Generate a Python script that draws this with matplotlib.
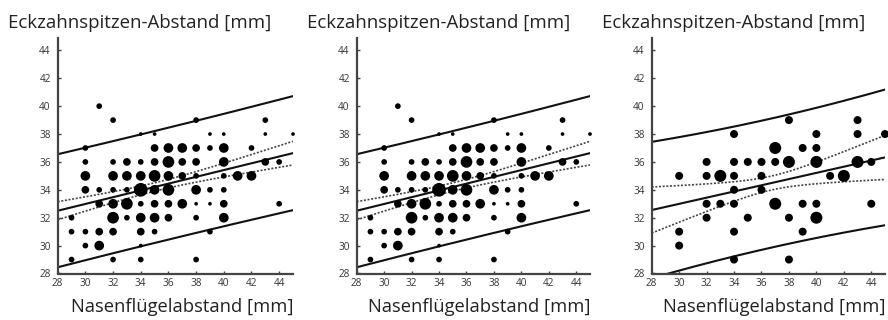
import numpy as np
import matplotlib
matplotlib.use("Agg")
import matplotlib.pyplot as plt

plt.rcParams['font.family'] = ['Open Sans', 'DejaVu Sans']

# ---- data: nose-wing width (x) vs. canine-tip distance (y), n = number of cases ----
# full sample (drawn in the left and middle panels)
x_all = [31,
         32, 38, 43,
         34, 35, 39, 40, 43, 45,
         30, 35, 36, 37, 38, 39, 40, 42,
         30, 32, 33, 34, 35, 36, 37, 38, 40, 43, 44,
         30, 32, 33, 34, 35, 36, 37, 38, 40, 41, 42,
         30, 31, 32, 33, 34, 35, 36, 38, 39, 40,
         31, 32, 33, 34, 35, 36, 37, 38, 39, 40, 44,
         29, 32, 33, 34, 35, 36, 38, 40,
         29, 30, 31, 32, 34, 35, 39,
         30, 31, 34,
         29, 32, 34, 38]
y_all = [40,
         39, 39, 39,
         38, 38, 38, 38, 38, 38,
         37, 37, 37, 37, 37, 37, 37, 37,
         36, 36, 36, 36, 36, 36, 36, 36, 36, 36, 36,
         35, 35, 35, 35, 35, 35, 35, 35, 35, 35, 35,
         34, 34, 34, 34, 34, 34, 34, 34, 34, 34,
         33, 33, 33, 33, 33, 33, 33, 33, 33, 33, 33,
         32, 32, 32, 32, 32, 32, 32, 32,
         31, 31, 31, 31, 31, 31, 31,
         30, 30, 30,
         29, 29, 29, 29]
n_all = [2,
         2, 2, 2,
         1, 1, 1, 1, 1, 1,
         2, 3, 4, 4, 3, 2, 4, 2,
         2, 2, 3, 2, 3, 5, 3, 3, 4, 3, 2,
         4, 4, 4, 4, 5, 4, 3, 2, 2, 4, 4,
         3, 2, 2, 2, 6, 4, 5, 4, 2, 2,
         3, 4, 5, 2, 3, 3, 4, 1, 1, 3, 2,
         2, 5, 2, 4, 4, 3, 2, 4,
         2, 2, 3, 3, 3, 2, 2,
         2, 4, 1,
         2, 2, 2, 2]

# sub-sample (right panel)
x_sub = [30, 30, 30,
         32, 32, 32, 32,
         33, 33,
         34, 34, 34, 34, 34, 34, 34,
         35, 35,
         36, 36, 36,
         37, 37, 37,
         38, 38, 38, 38,
         39, 39, 39,
         40, 40, 40, 40, 40,
         41, 42,
         43, 43, 43,
         44, 44,
         45]
y_sub = [35, 31, 30,
         36, 35, 33, 32,
         35, 33,
         38, 36, 35, 34, 33, 31, 29,
         36, 32,
         36, 35, 34,
         37, 36, 33,
         39, 36, 32, 29,
         37, 33, 31,
         38, 37, 36, 33, 32,
         35, 35,
         39, 38, 36,
         36, 33,
         38]
n_sub = [1, 1, 1,
         1, 1, 1, 1,
         2, 1,
         1, 1, 1, 1, 1, 1, 1,
         1, 1,
         1, 1, 1,
         2, 1, 2,
         1, 2, 1, 1,
         1, 1, 1,
         1, 1, 2, 1, 2,
         1, 2,
         1, 1, 2,
         1, 1,
         1]

# ---- linear fit: y at x=28, slope, mean x, fit SE terms, residual term ----
fit_all = dict(y28=32.5, slope=0.243, xm=35.15, c0=0.30, k=0.0806, ts=4.0)
fit_sub = dict(y28=32.55, slope=0.222, xm=36.7, c0=0.50, k=0.181, ts=4.6)

x_ticks = [28, 30, 32, 34, 36, 38, 40, 42, 44]
y_ticks = [28, 30, 32, 34, 36, 38, 40, 42, 44]
title_txt = "Eckzahnspitzen-Abstand [mm]"
xlabel_txt = "Nasenflügelabstand [mm]"

W, H = 888, 320
fig = plt.figure(figsize=(W / 100, H / 100), dpi=100)

AX_GRAY = "#444444"


def px_to_pt(d):
    return d * 72.0 / 100.0


def draw_panel(left_px, right_px, xs, ys, ns, fit, diam):
    bottom_px, top_px = 273.5, 38.5
    ax = fig.add_axes([left_px / W, 1 - bottom_px / H,
                       (right_px - left_px) / W, (bottom_px - top_px) / H])
    ax.set_xlim(28, 45)
    ax.set_ylim(28, 44.85)

    xx = np.linspace(28, 45, 200)
    yhat = fit['y28'] + fit['slope'] * (xx - 28)
    se = np.sqrt(fit['c0'] ** 2 + fit['k'] ** 2 * (xx - fit['xm']) ** 2)
    pe = np.sqrt(fit['ts'] ** 2 + se ** 2)

    ax.plot(xx, yhat, color="#111111", lw=1.5, zorder=2)
    ax.plot(xx, yhat + pe, color="#111111", lw=1.5, zorder=2)
    ax.plot(xx, yhat - pe, color="#111111", lw=1.5, zorder=2)
    ax.plot(xx, yhat + se, color="#444444", lw=1.2, ls=(0, (1.2, 1.0)), zorder=2)
    ax.plot(xx, yhat - se, color="#444444", lw=1.2, ls=(0, (1.2, 1.0)), zorder=2)

    sizes = [px_to_pt(diam(n)) ** 2 for n in ns]
    ax.scatter(xs, ys, s=sizes, c="black", linewidths=0, zorder=3, clip_on=False)

    for side in ("top", "right"):
        ax.spines[side].set_visible(False)
    for side in ("left", "bottom"):
        ax.spines[side].set_color(AX_GRAY)
        ax.spines[side].set_linewidth(1.6)

    ax.set_xticks(x_ticks)
    ax.set_yticks(y_ticks)
    ax.tick_params(direction="in", length=2, width=1, color=AX_GRAY,
                   labelsize=7.2, labelcolor="#333333")
    ax.tick_params(axis="y", pad=5)
    ax.tick_params(axis="x", pad=3)

    fig.text((left_px - 50) / W, 1 - 28 / H, title_txt, fontsize=13.4,
             color="#222222", ha="left", va="baseline")
    fig.text(right_px / W, 1 - 311.5 / H, xlabel_txt, fontsize=13.2,
             color="#222222", ha="right", va="baseline")
    return ax


size_all = lambda n: 2.0 * n + 1.7
size_sub = lambda n: 4.0 * n + 4.0

draw_panel(57.7, 293, x_all, y_all, n_all, fit_all, size_all)
draw_panel(356.7, 590, x_all, y_all, n_all, fit_all, size_all)
draw_panel(651.7, 885, x_sub, y_sub, n_sub, fit_sub, size_sub)

fig.savefig("out.png", dpi=100)
